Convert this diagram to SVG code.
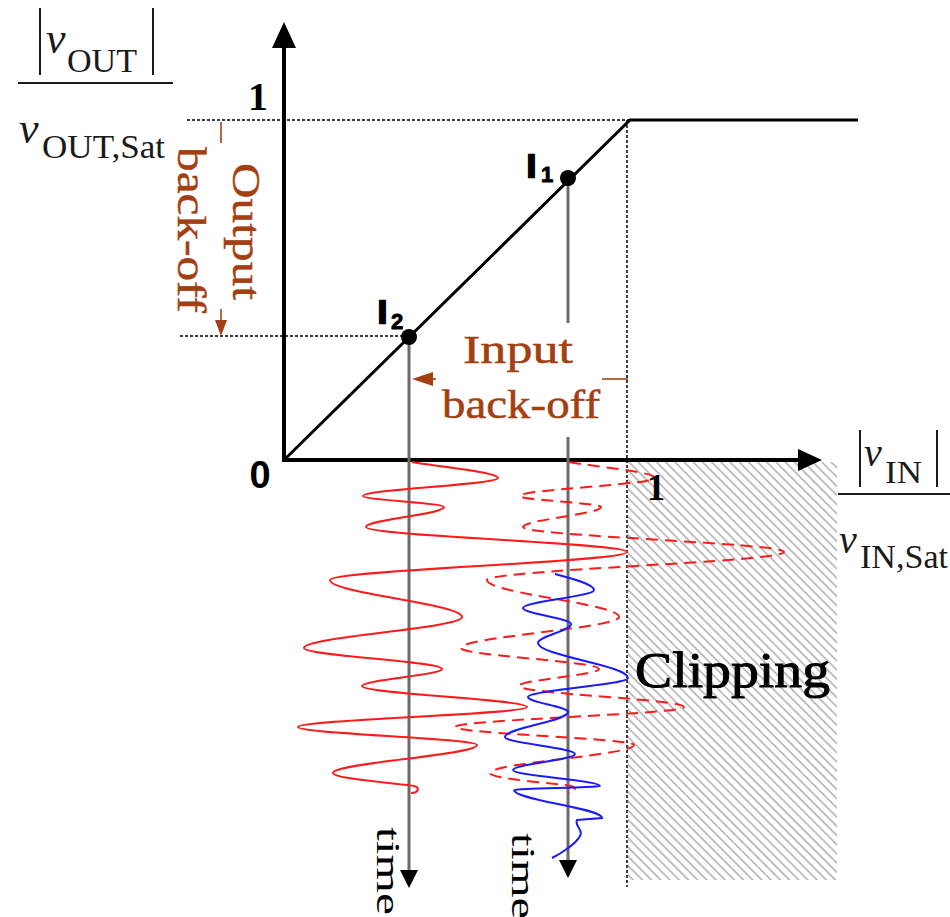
<svg xmlns="http://www.w3.org/2000/svg" xmlns:xlink="http://www.w3.org/1999/xlink" width="950" height="917" viewBox="0 0 950 917">
<style>
.axis{stroke:#000;stroke-width:4;fill:none}
.curve{stroke:#000;stroke-width:3;fill:none}
.dot{stroke:#000;stroke-width:1.5;stroke-dasharray:3 2;fill:none}
.gray{stroke:#6b6b6b;stroke-width:3;fill:none}
.brown{stroke:#a33f12;stroke-width:1.6;fill:none}
.red{stroke:#ff1a1a;stroke-width:2;fill:none}
.dash{stroke-dasharray:12 7}
.blue{stroke:#1a1aff;stroke-width:2;fill:none}
.serif{font-family:"Liberation Serif","Times New Roman",serif}
.sans{font-family:"Liberation Sans",Arial,sans-serif}
.lbl{fill:#a33f12;font-family:"Liberation Serif","Times New Roman",serif;font-size:40px;stroke:#a33f12;stroke-width:0.5}
.math{fill:#1a1a1a;font-family:"Liberation Serif","Times New Roman",serif}
.bar{stroke:#1a1a1a;stroke-width:2;fill:none}
.pt{font-family:"Liberation Sans",Arial,sans-serif;font-weight:bold;fill:#000;stroke:#000}
</style>
<defs>
<pattern id="hatch" width="6.5" height="10" patternUnits="userSpaceOnUse" patternTransform="rotate(-45)">
<line x1="1" y1="0" x2="1" y2="10" stroke="#a0a0a0" stroke-width="1.3"/>
</pattern>
<marker id="ah" markerUnits="userSpaceOnUse" markerWidth="18" markerHeight="18" viewBox="0 0 16 16" refX="8" refY="8" orient="auto">
<path d="M0,0 L16,8 L0,16 z" fill="#000"/>
</marker>
<path id="wave" d="M412,462 C440,467 498,472 498,478 C498,484.5 363,489.5 363,496 C363,500 444,503 444,507 C444,514.2 366,519.8 366,527 C366,536 627,543 627,552 C627,562 330,570 330,580 C330,593.3 462,603.7 462,617 C462,628.2 304,636.8 304,648 C304,655.6 442,661.4 442,669 C442,675.1 362,679.9 362,686 C362,693.6 527,699.4 527,707 C527,714.2 298,719.8 298,727 C298,733.5 477,738.5 477,745 C477,755 333,763 333,773 C333,779 405,784 414,786 C420,787 419,793 411,793"/>
</defs>

<rect id="clip-region" x="628" y="462" width="209" height="418" fill="url(#hatch)"/>

<g id="guides">
<line class="dot" x1="187" y1="120" x2="630" y2="120"/>
<line class="dot" x1="180" y1="336" x2="409" y2="336"/>
<line class="dot" x1="627" y1="120" x2="627" y2="887"/>
</g>

<g id="axes">
<line class="axis" x1="284" y1="45" x2="284" y2="462"/>
<polygon points="284,22 296,48 272,48" fill="#000"/>
<line class="axis" x1="282" y1="460" x2="802" y2="460"/>
<polygon points="822,460 798,449 798,471" fill="#000"/>
</g>

<g id="transfer-curve">
<path class="curve" d="M284,460 L630,120 L858,120"/>
</g>

<g id="connectors">
<line class="gray" x1="409" y1="337" x2="409" y2="879" marker-end="url(#ah)"/>
<line class="gray" x1="568" y1="178" x2="568" y2="323"/>
<line class="gray" x1="568" y1="437" x2="568" y2="869" marker-end="url(#ah)"/>
<line class="brown" x1="221" y1="122" x2="221" y2="143"/>
<line class="brown" x1="221" y1="309" x2="221" y2="322"/>
<polygon points="221,336 215,320 227,320" fill="#a33f12"/>
<line class="brown" x1="602" y1="379" x2="628" y2="379"/>
<line class="brown" x1="428" y1="379" x2="436" y2="379"/>
<polygon points="412,379 433,372 433,386" fill="#a33f12"/>
</g>

<g id="waveforms">
<use xlink:href="#wave" href="#wave" class="red"/>
<use xlink:href="#wave" href="#wave" class="red dash" transform="translate(157,0)"/>
<path class="blue" d="M555,574 C570,578 594,584 594,590 C594,596.5 523,601.5 523,608 C523,613.8 571,618.2 571,624 C571,630.8 538,636.2 538,643 C538,655.6 628,665.4 628,678 C628,684.8 528,690.2 528,697 C528,702.4 568,706.6 568,712 C568,721 505,728 505,737 C505,743.1 575,747.9 575,754 C575,759.8 513,764.2 513,770 C513,775.8 600,780.2 600,786 C600,787.4 514,788.6 514,790 C514,800 602,808 602,818 L577,820 C574,826 584,830 580,836 C576,844 560,854 552,858"/>
</g>

<g id="I1">
<circle cx="568" cy="178" r="8" fill="#000"/>
<text class="pt" x="527" y="177" font-size="32" stroke-width="2.4">I</text>
<text class="pt" x="541" y="182" font-size="22" stroke-width="0.9">1</text>
</g>
<g id="I2">
<circle cx="409" cy="337" r="8" fill="#000"/>
<text class="pt" x="378" y="323" font-size="32" stroke-width="2.4">I</text>
<text class="pt" x="391" y="329" font-size="22" stroke-width="0.9">2</text>
</g>

<g id="tick-labels">
<text class="serif" x="258" y="110" font-size="40" font-weight="bold" text-anchor="middle">1</text>
<text class="serif" x="656" y="500" font-size="37" font-weight="bold" text-anchor="middle">1</text>
<text class="sans" x="260" y="488" font-size="38" font-weight="bold" text-anchor="middle">0</text>
</g>

<g id="output-backoff">
<text class="lbl" transform="translate(233,163) rotate(90)" textLength="137" lengthAdjust="spacingAndGlyphs">Output</text>
<text class="lbl" transform="translate(178,147) rotate(90)" textLength="166" lengthAdjust="spacingAndGlyphs">back-off</text>
</g>

<g id="input-backoff">
<text class="lbl" x="463" y="363" textLength="110" lengthAdjust="spacingAndGlyphs">Input</text>
<text class="lbl" x="442" y="418" textLength="158" lengthAdjust="spacingAndGlyphs">back-off</text>
</g>

<g id="clipping">
<text class="serif" x="635" y="687" font-size="50" fill="#000" stroke="#000" stroke-width="1" textLength="195" lengthAdjust="spacingAndGlyphs">Clipping</text>
</g>

<g id="time-labels">
<text class="serif" transform="translate(377,827) rotate(90)" font-size="34" fill="#000" textLength="88" lengthAdjust="spacingAndGlyphs">time</text>
<text class="serif" transform="translate(512,833) rotate(90)" font-size="34" fill="#000" textLength="86" lengthAdjust="spacingAndGlyphs">time</text>
</g>

<g id="y-label">
<line class="bar" x1="40" y1="8" x2="40" y2="75"/>
<line class="bar" x1="153" y1="8" x2="153" y2="75"/>
<text class="math" x="46" y="53" font-size="44" font-style="italic">v</text>
<text class="math" x="67" y="72" font-size="33" textLength="70" lengthAdjust="spacingAndGlyphs">OUT</text>
<line class="bar" x1="18" y1="83" x2="173" y2="83"/>
<text class="math" x="19" y="143" font-size="44" font-style="italic">v</text>
<text class="math" x="42" y="158" font-size="33" textLength="123" lengthAdjust="spacingAndGlyphs">OUT,Sat</text>
</g>

<g id="x-label">
<line class="bar" x1="860" y1="430" x2="860" y2="487"/>
<line class="bar" x1="937" y1="430" x2="937" y2="487"/>
<text class="math" x="864" y="466" font-size="40" font-style="italic">v</text>
<text class="math" x="885" y="483" font-size="32" textLength="37" lengthAdjust="spacingAndGlyphs">IN</text>
<line class="bar" x1="838" y1="494" x2="950" y2="494"/>
<text class="math" x="839" y="553" font-size="40" font-style="italic">v</text>
<text class="math" x="860" y="568" font-size="34" textLength="88" lengthAdjust="spacingAndGlyphs">IN,Sat</text>
</g>
</svg>
